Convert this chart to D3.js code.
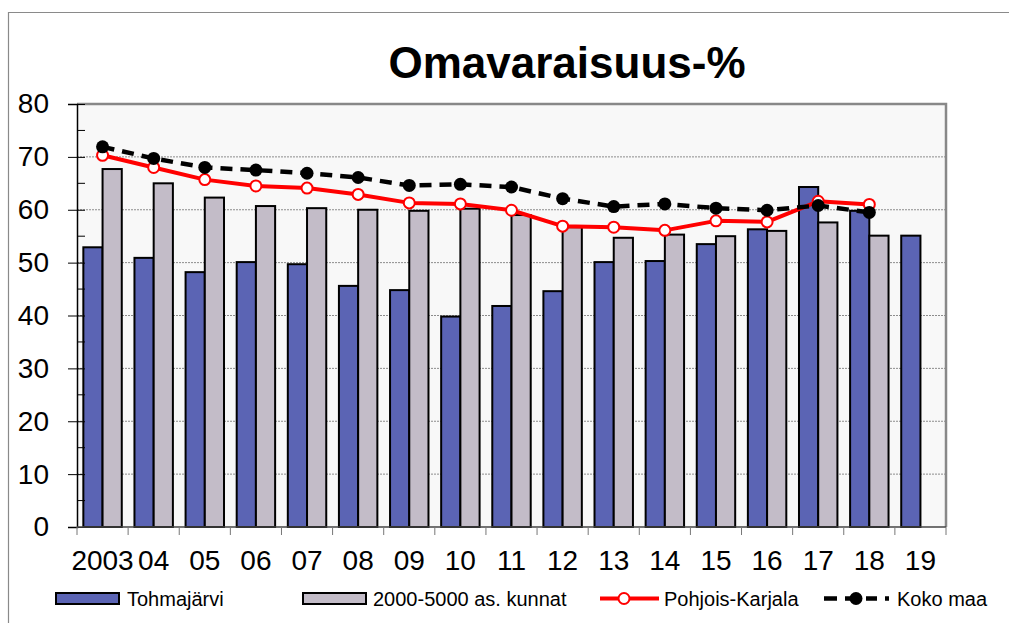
<!DOCTYPE html>
<html>
<head>
<meta charset="utf-8">
<script src="https://cdn.jsdelivr.net/npm/d3@7/dist/d3.min.js"></script>
<style>
  html, body { margin: 0; padding: 0; background: #fff; }
  svg { display: block; font-family: "Liberation Sans", Arial, sans-serif; }
</style>
</head>
<body>
<svg id="chart" width="1009" height="623"></svg>
<script>
// Omavaraisuus-% 2003–2019
const years = ["2003","04","05","06","07","08","09","10","11","12","13","14","15","16","17","18","19"];
const tohmajarvi = [52.9, 50.9, 48.2, 50.1, 49.7, 45.6, 44.8, 39.8, 41.8, 44.6, 50.1, 50.3, 53.5, 56.3, 64.3, 59.8, 55.1];
const kunnat = [67.7, 65.0, 62.3, 60.7, 60.3, 60.0, 59.8, 60.2, 59.0, 56.7, 54.7, 55.3, 55.0, 56.0, 57.6, 55.1, null];
const pohjoisKarjala = [70.3, 68.0, 65.7, 64.5, 64.1, 62.9, 61.3, 61.1, 59.9, 56.9, 56.7, 56.1, 57.9, 57.7, 61.6, 61.0, null];
const kokoMaa = [71.9, 69.7, 68.0, 67.5, 66.9, 66.1, 64.6, 64.8, 64.3, 62.1, 60.6, 61.1, 60.3, 59.9, 60.8, 59.5, null];
const yTicks = [0, 10, 20, 30, 40, 50, 60, 70, 80];
const seriesNames = ["Tohmajärvi", "2000-5000 as. kunnat", "Pohjois-Karjala", "Koko maa"];

const svg = d3.select("#chart");
const plot = { left: 77, right: 946, top: 104, bottom: 527 };

const BLUE = "#5b64b4", GREY = "#c3bcc8", RED = "#ff0000";

// outer frame (top and left edges)
svg.append("path")
  .attr("d", `M8.5,623 V12.5 H1009`)
  .attr("fill", "none").attr("stroke", "#8a8a8a").attr("stroke-width", 1.2);

// title
svg.append("text")
  .attr("x", 567).attr("y", 78)
  .attr("text-anchor", "middle")
  .attr("font-size", 44).attr("font-weight", "bold")
  .text("Omavaraisuus-%");

const x = d3.scaleBand().domain(years).range([plot.left, plot.right]).padding(0);
const xSub = d3.scaleBand().domain(["t", "k"]).range([0, x.bandwidth()]).paddingInner(0).paddingOuter(0.33);
const y = d3.scaleLinear().domain([0, 80]).range([plot.bottom, plot.top]);

// plot background
svg.append("rect")
  .attr("x", plot.left).attr("y", plot.top)
  .attr("width", plot.right - plot.left).attr("height", plot.bottom - plot.top)
  .attr("fill", "#f8f8f8");

// dotted gridlines
svg.append("g").selectAll("line")
  .data(yTicks.filter(v => v > 0 && v < 80))
  .join("line")
  .attr("x1", plot.left).attr("x2", plot.right)
  .attr("y1", d => y(d)).attr("y2", d => y(d))
  .attr("stroke", "#8c8c8c").attr("stroke-width", 1)
  .attr("stroke-dasharray", "2,1");

// plot frame top & right
svg.append("path")
  .attr("d", `M${plot.left},${plot.top} H${plot.right} V${plot.bottom}`)
  .attr("fill", "none").attr("stroke", "#888").attr("stroke-width", 2.5);

// bars
const bars = svg.append("g");
bars.selectAll("rect.t")
  .data(years.map((yr, i) => ({ yr, v: tohmajarvi[i] })).filter(d => d.v != null))
  .join("rect")
  .attr("x", d => x(d.yr) + xSub("t"))
  .attr("y", d => y(d.v))
  .attr("width", xSub.bandwidth())
  .attr("height", d => y(0) - y(d.v))
  .attr("fill", BLUE).attr("stroke", "#000").attr("stroke-width", 2);
bars.selectAll("rect.k")
  .data(years.map((yr, i) => ({ yr, v: kunnat[i] })).filter(d => d.v != null))
  .join("rect")
  .attr("x", d => x(d.yr) + xSub("k"))
  .attr("y", d => y(d.v))
  .attr("width", xSub.bandwidth())
  .attr("height", d => y(0) - y(d.v))
  .attr("fill", GREY).attr("stroke", "#000").attr("stroke-width", 2);

// y axis
const yAxis = d3.axisLeft(y).tickValues(yTicks).tickSize(9).tickPadding(19);
const gy = svg.append("g").attr("transform", `translate(${plot.left},0)`).call(yAxis);
gy.select(".domain").attr("stroke", "#000").attr("stroke-width", 1.5);
gy.selectAll(".tick line").attr("stroke", "#000").attr("x2", 8).attr("x1", -9);
gy.selectAll(".tick text").attr("font-size", 28).attr("fill", "#000")
  .attr("font-family", "Liberation Sans, Arial, sans-serif");
// minor ticks at odd fives
svg.append("g").selectAll("line")
  .data(d3.range(5, 80, 10))
  .join("line")
  .attr("x1", plot.left).attr("x2", plot.left + 8)
  .attr("y1", d => y(d)).attr("y2", d => y(d))
  .attr("stroke", "#000");

// x axis: tick marks at category boundaries
svg.append("line")
  .attr("x1", plot.left).attr("x2", plot.right)
  .attr("y1", plot.bottom).attr("y2", plot.bottom)
  .attr("stroke", "#444").attr("stroke-width", 1.5);
const bounds = years.map(yr => x(yr)).concat([x(years[years.length - 1]) + x.bandwidth()]);
svg.append("g").selectAll("line")
  .data(bounds)
  .join("line")
  .attr("x1", d => d).attr("x2", d => d)
  .attr("y1", plot.bottom).attr("y2", plot.bottom + 8)
  .attr("stroke", "#777");
svg.append("g").selectAll("text")
  .data(years)
  .join("text")
  .attr("x", d => x(d) + x.bandwidth() / 2)
  .attr("y", 570)
  .attr("text-anchor", "middle")
  .attr("font-size", 28)
  .text(d => d);

// lines
const cx = yr => x(yr) + x.bandwidth() / 2;
const lineGen = d3.line().defined(d => d.v != null).x(d => cx(d.yr)).y(d => y(d.v));
const pkData = years.map((yr, i) => ({ yr, v: pohjoisKarjala[i] }));
const kmData = years.map((yr, i) => ({ yr, v: kokoMaa[i] }));

svg.append("path").datum(pkData)
  .attr("d", lineGen).attr("fill", "none")
  .attr("stroke", RED).attr("stroke-width", 4).attr("stroke-linejoin", "round");
svg.append("g").selectAll("circle")
  .data(pkData.filter(d => d.v != null))
  .join("circle")
  .attr("cx", d => cx(d.yr)).attr("cy", d => y(d.v)).attr("r", 5.5)
  .attr("fill", "#fff").attr("stroke", RED).attr("stroke-width", 2);

svg.append("path").datum(kmData)
  .attr("d", lineGen).attr("fill", "none")
  .attr("stroke", "#000").attr("stroke-width", 4.5)
  .attr("stroke-dasharray", "12,8");
svg.append("g").selectAll("circle")
  .data(kmData.filter(d => d.v != null))
  .join("circle")
  .attr("cx", d => cx(d.yr)).attr("cy", d => y(d.v)).attr("r", 6.5)
  .attr("fill", "#000");

// legend
const leg = svg.append("g").attr("font-size", 20);
const ly = 598.5;
leg.append("rect").attr("x", 56).attr("y", 593).attr("width", 63).attr("height", 11)
  .attr("fill", BLUE).attr("stroke", "#000").attr("stroke-width", 2);
leg.append("text").attr("x", 127).attr("y", 605.5).text(seriesNames[0]);

leg.append("rect").attr("x", 303).attr("y", 593).attr("width", 63).attr("height", 11)
  .attr("fill", GREY).attr("stroke", "#000").attr("stroke-width", 2);
leg.append("text").attr("x", 373).attr("y", 605.5).text(seriesNames[1]);

leg.append("line").attr("x1", 600).attr("x2", 659).attr("y1", ly).attr("y2", ly)
  .attr("stroke", RED).attr("stroke-width", 4);
leg.append("circle").attr("cx", 624).attr("cy", ly).attr("r", 5.5)
  .attr("fill", "#fff").attr("stroke", RED).attr("stroke-width", 2);
leg.append("text").attr("x", 664).attr("y", 605.5).text(seriesNames[2]);

leg.append("line").attr("x1", 824).attr("x2", 890).attr("y1", ly).attr("y2", ly)
  .attr("stroke", "#000").attr("stroke-width", 4.5).attr("stroke-dasharray", "13,8,13,8,11,8,4");
leg.append("circle").attr("cx", 856).attr("cy", ly).attr("r", 6.5).attr("fill", "#000");
leg.append("text").attr("x", 897).attr("y", 605.5).text(seriesNames[3]);
</script>
</body>
</html>
